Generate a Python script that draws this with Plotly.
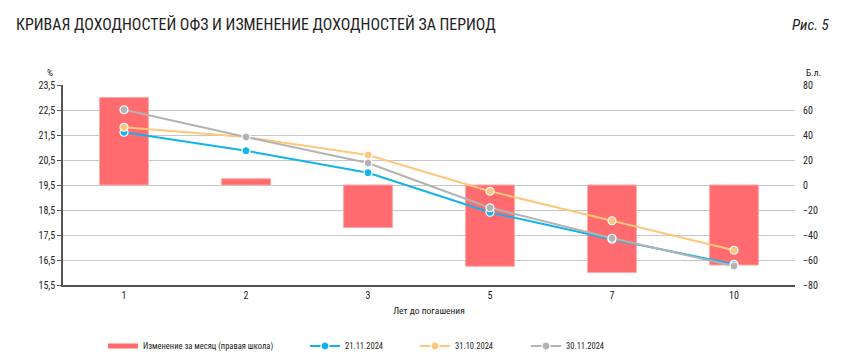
import plotly.graph_objects as go

categories = ["1", "2", "3", "5", "7", "10"]
change_bp = [70, 5, -34, -65, -70, -64]
y_21_11 = [21.61, 20.87, 19.99, 18.41, 17.33, 16.33]
y_31_10 = [21.81, 21.42, 20.70, 19.25, 18.07, 16.89]
y_30_11 = [22.51, 21.42, 20.38, 18.59, 17.37, 16.26]
left_ticks = [15.5, 16.5, 17.5, 18.5, 19.5, 20.5, 21.5, 22.5, 23.5]
right_ticks = [-80, -60, -40, -20, 0, 20, 40, 60, 80]

FONT = "Roboto Condensed, Liberation Sans, sans-serif"
TXT = "#222222"
BAR_COL = "#FF6B6E"

# page body has an 8px margin: figure is drawn 8px in from the top-left
W, H = 836, 348
PL, PT, PW, PH = 55, 77, 732, 200

fig = go.Figure()
fig.add_trace(go.Bar(
    x=categories, y=change_bp, yaxis="y", name="Изменение за месяц (правая школа)",
    marker=dict(color=BAR_COL, line=dict(color="#FFA5A5", width=1)),
    width=0.4, showlegend=False,
))
# legend entry for the bars (wide flat rectangle symbol)
fig.add_trace(go.Scatter(
    x=[None], y=[None], yaxis="y", mode="lines", name="Изменение за месяц (правая школа)",
    line=dict(color=BAR_COL, width=5), legend="legend", showlegend=True,
))
for vals, name, col, lg in [
    (y_21_11, "21.11.2024", "#13B2E8", "legend2"),
    (y_31_10, "31.10.2024", "#FFC67E", "legend3"),
    (y_30_11, "30.11.2024", "#B3B3B3", "legend4"),
]:
    fig.add_trace(go.Scatter(
        x=categories, y=vals, name=name, mode="lines+markers", yaxis="y2",
        line=dict(color=col, width=2),
        marker=dict(color=col, size=8, line=dict(color="white", width=1.2)),
        legend=lg, showlegend=True,
    ))

legend_common = dict(orientation="h", yanchor="middle", xanchor="left",
                     font=dict(family=FONT, size=8.5, color=TXT),
                     bgcolor="rgba(0,0,0,0)", itemwidth=30,
                     yref="container", y=(H - (346 - 8)) / H, xref="container")


def lgx(text_px):
    return (text_px - 48) / W


def px(x):
    return (x - 63) / PW


def py(y):
    return 1 + (85 - y) / PH


fig.update_layout(
    width=W, height=H,
    margin=dict(l=PL, r=W - PL - PW, t=PT, b=H - PT - PH, autoexpand=False),
    paper_bgcolor="white", plot_bgcolor="white",
    separators=", ",
    showlegend=True,
    font=dict(family=FONT, size=10, color=TXT),
    barmode="overlay",
    xaxis=dict(
        type="category", showgrid=False, showline=True, linecolor="#555555", linewidth=1.5,
        ticks="", tickfont=dict(size=10, color=TXT), automargin=False,
        title=dict(text="Лет до погашения", font=dict(size=9.5, color=TXT), standoff=8),
    ),
    yaxis=dict(
        range=[-80, 80], tickvals=right_ticks, side="right",
        showgrid=True, gridcolor="#C6C6C6", gridwidth=1,
        showline=False, zeroline=False, ticks="", automargin=False,
        ticklabelstandoff=7,
        tickfont=dict(size=10, color=TXT),
    ),
    yaxis2=dict(
        range=[15.5, 23.5], tickvals=left_ticks, tickformat=".1f",
        overlaying="y", side="left", showgrid=False,
        showline=True, linecolor="#555555", linewidth=1.5,
        ticks="outside", ticklen=4, tickcolor="#555555", automargin=False,
        tickfont=dict(size=10, color=TXT), zeroline=False,
    ),
    legend=dict(legend_common, x=lgx(143)),
    legend2=dict(legend_common, x=lgx(345)),
    legend3=dict(legend_common, x=lgx(455)),
    legend4=dict(legend_common, x=lgx(566)),
    shapes=[dict(type="line", xref="paper", yref="paper", x0=px(14), x1=px(830),
                 y0=py(7), y1=py(7), line=dict(color="#E8414F", width=1.5))],
    annotations=[
        dict(text="КРИВАЯ ДОХОДНОСТЕЙ ОФЗ И ИЗМЕНЕНИЕ ДОХОДНОСТЕЙ ЗА ПЕРИОД",
             xref="paper", yref="paper", x=px(14), y=py(25),
             xanchor="left", yanchor="middle", showarrow=False,
             font=dict(family=FONT, size=15.9, color=TXT)),
        dict(text="<i>Рис. 5</i>", xref="paper", yref="paper", x=px(831),
             y=py(25), xanchor="right", yanchor="middle", showarrow=False,
             font=dict(family=FONT, size=15, color=TXT)),
        dict(text="%", xref="paper", yref="paper", x=px(50), y=py(73),
             xanchor="center", yanchor="middle", showarrow=False,
             font=dict(family=FONT, size=9.5, color=TXT)),
        dict(text="Б.л.", xref="paper", yref="paper", x=px(804), y=py(73),
             xanchor="left", yanchor="middle", showarrow=False,
             font=dict(family=FONT, size=9.5, color=TXT)),
    ],
)

fig.write_html("out.html")
